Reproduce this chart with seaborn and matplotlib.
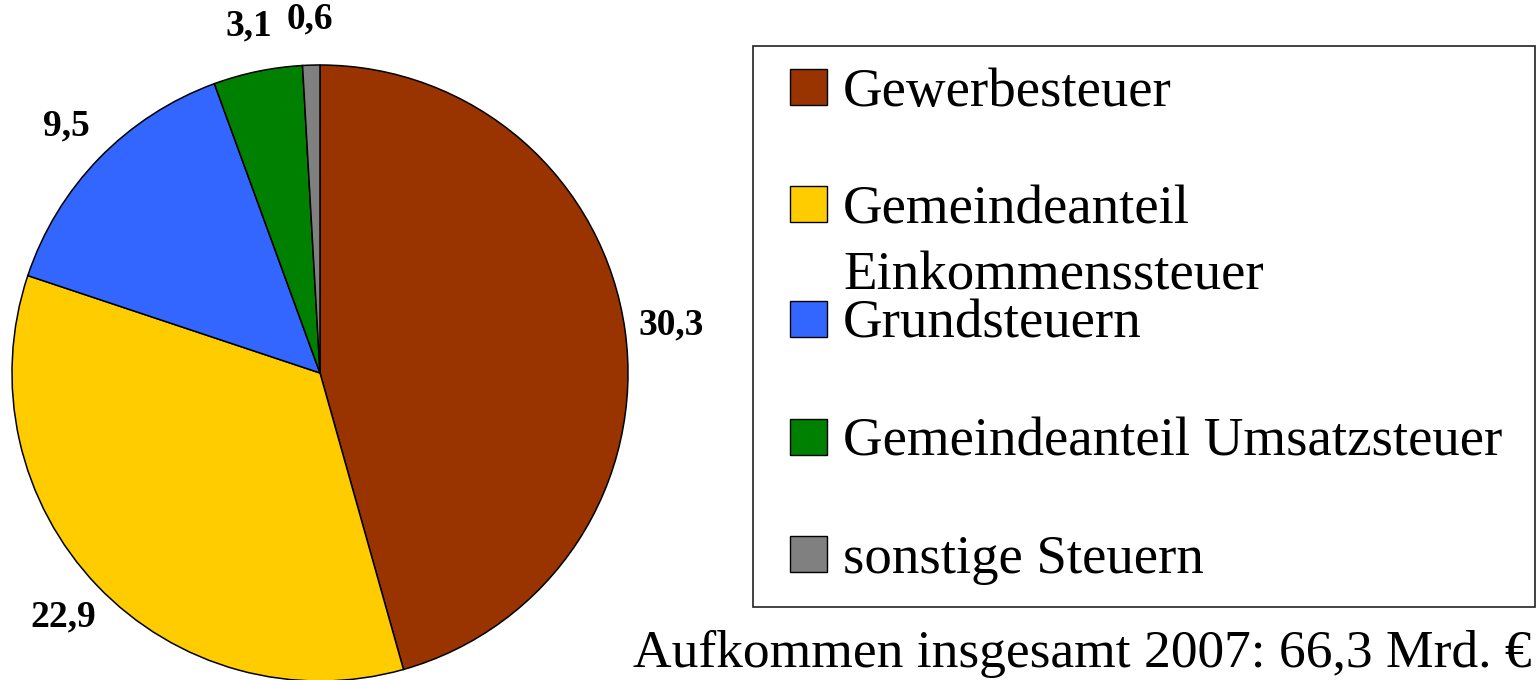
import matplotlib
matplotlib.use('Agg')
import matplotlib.pyplot as plt
import seaborn as sns
import numpy as np
from matplotlib.patches import Rectangle

# Gemeindesteuern 2007 (Mrd. Euro)
kategorien = ['Gewerbesteuer', 'Gemeindeanteil\nEinkommenssteuer', 'Grundsteuern',
              'Gemeindeanteil Umsatzsteuer', 'sonstige Steuern']
werte = [30.3, 22.9, 9.5, 3.1, 0.6]
wert_labels = ['30,3', '22,9', '9,5', '3,1', '0,6']
farben = ['#993300', '#FFCC00', '#3366FF', '#008000', '#808080']
fussnote = 'Aufkommen insgesamt 2007: 66,3 Mrd. €'

sns.set_theme(style='white')
plt.rcParams['font.family'] = ['Liberation Serif', 'DejaVu Serif']

W, H = 1538, 680
fig = plt.figure(figsize=(W / 100, H / 100), dpi=100)
ax = fig.add_axes([0, 0, 1, 1])

# Kreisdiagramm (Pixelkoordinaten, y von oben gemessen -> H - y)
cx, cy, r = 320, H - 373, 308
wedges, _ = ax.pie(werte, colors=farben, startangle=90, counterclock=False,
                   center=(cx, cy), radius=r, frame=True,
                   wedgeprops=dict(edgecolor='black', linewidth=1.1))
ax.set_xlim(0, W)
ax.set_ylim(0, H)
ax.set_aspect('equal')
ax.axis('off')

# Werte-Beschriftung ausserhalb
for w, lab in zip(wedges, wert_labels):
    ang = np.deg2rad((w.theta1 + w.theta2) / 2)
    d = r * 1.15
    ax.text(cx + d * np.cos(ang), cy + d * np.sin(ang), lab, ha='center', va='center',
            fontsize=27, fontweight='bold', color='black')

# Legende (von Hand, wie im Original)
ax.add_patch(Rectangle((753, H - 607), 782, 561, fill=False, edgecolor='#222222', linewidth=1.2))
basislinien = [106, 223, 338, 456, 573]
for farbe, name, yb in zip(farben, kategorien, basislinien):
    ax.add_patch(Rectangle((790, H - yb + 1), 37, 36, facecolor=farbe, edgecolor='black', linewidth=1.0))
    for i, zeile in enumerate(name.split('\n')):
        ax.text(843, H - yb - 67 * i, zeile, ha='left', va='baseline', fontsize=39.5,
                color='black')

# Fussnote unten rechts
ax.text(633, H - 667, fussnote, ha='left', va='baseline', fontsize=38.5, color='black')

fig.savefig('out.png', dpi=100)
